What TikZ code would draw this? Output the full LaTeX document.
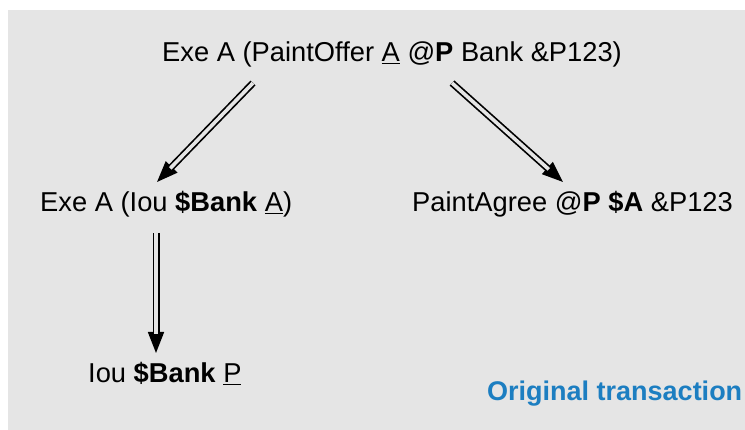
\documentclass[tikz,border=0pt]{standalone}
\usepackage{fontspec}
\setmainfont{Liberation Sans}
\usetikzlibrary{arrows.meta,calc,positioning}
\definecolor{panelgray}{RGB}{229,229,229}
\definecolor{captionblue}{RGB}{28,126,193}
\tikzset{
  term/.style={font=\fontsize{27.3}{32}\selectfont,inner sep=0pt,anchor=base west},
  tipline/.style={line width=1.7pt,-{Triangle[length=21pt,width=16pt]}},
  dblline/.style={line width=1.7pt,double=panelgray,double distance=3.6pt,shorten >=19pt}
}
\begin{document}
\begin{tikzpicture}[x=1pt,y=1pt,line cap=butt,line join=miter]
\useasboundingbox (0,0) rectangle (745,-430);
\fill[panelgray] (8,-10) rectangle (745,-430);
\node[term] (offer) at (162,-62) {Exe A (PaintOffer \underline{A} @\textbf{P} Bank \&P123)};
\node[term] (exeiou) at (40,-212) {Exe A (Iou \textbf{\$Bank} \underline{A})};
\node[term] (agree) at (412,-212) {PaintAgree @\textbf{P \$A} \&P123};
\node[term] (iou) at (88,-383) {Iou \textbf{\$Bank} \underline{P}};
\node[term,font=\fontsize{27}{32}\selectfont\bfseries,text=captionblue] (caption) at (487,-401) {Original transaction};
% ends of the double arrows
\coordinate (s1) at ($(offer.base west)+(91,-21)$);
\coordinate (e1) at ($(exeiou.base west)+(117,30)$);
\coordinate (s2) at ($(offer.base west)+(290,-21)$);
\coordinate (e2) at ($(agree.base west)+(151,30)$);
\coordinate (s3) at ($(exeiou.base west)+(116,-21)$);
\coordinate (e3) at ($(iou.base west)+(68,30)$);
\foreach \s/\e in {s1/e1,s2/e2,s3/e3}{
  \draw[tipline] (\s)--(\e);
  \draw[dblline] (\s)--(\e);
}
\end{tikzpicture}
\end{document}
